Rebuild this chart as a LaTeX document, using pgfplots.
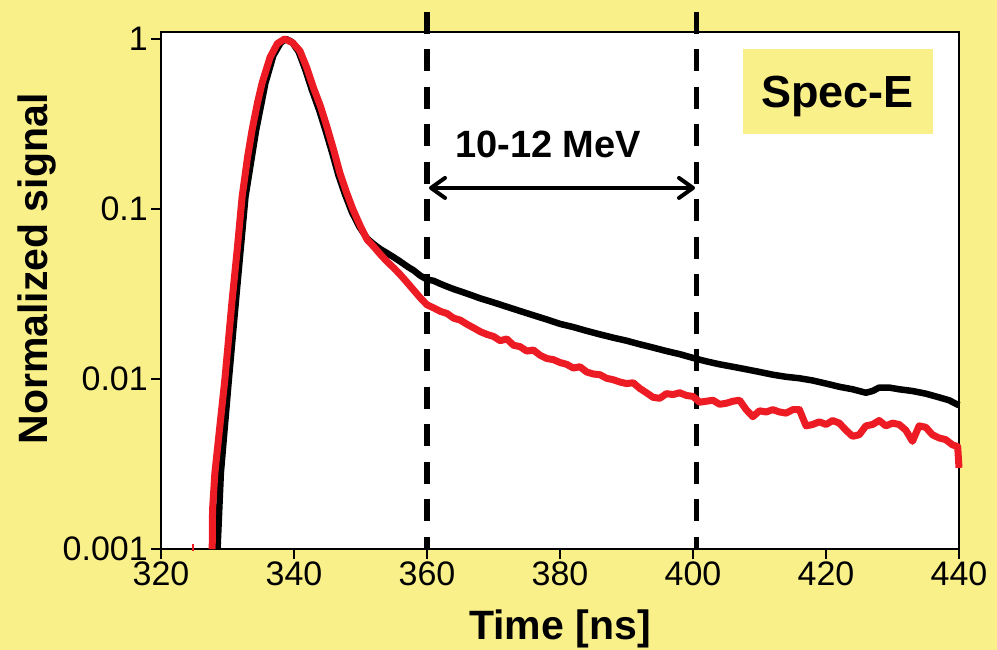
\documentclass[border=0pt]{standalone}
\usepackage{fontspec}
\setmainfont{Liberation Sans}
\usepackage{pgfplots}
\pgfplotsset{compat=1.18}
\usetikzlibrary{arrows.meta}
\definecolor{bgyellow}{RGB}{250,240,138}
\definecolor{sigred}{RGB}{237,28,36}

\begin{document}
\begin{tikzpicture}
% page background
\fill[bgyellow] (0pt,0pt) rectangle (997pt,650pt);
\begin{axis}[
  at={(161pt,101pt)}, anchor=south west,
  scale only axis, width=798pt, height=517pt,
  xmin=320, xmax=440,
  ymode=log, ymin=0.001, ymax=1.099,
  xtick={320,340,...,440},
  ytick={0.001,0.01,0.1,1}, yticklabels={0.001,0.01,0.1,1},
  yminorticks=false,
  xtick pos=bottom, ytick pos=left,
  tick align=outside, major tick length=10pt,
  tick style={line width=1.5pt, black},
  axis line style={line width=1.5pt, black},
  axis background/.style={fill=white},
  tick label style={font=\fontsize{34}{40}\selectfont},
  yticklabel style={inner sep=3pt},
  xticklabel style={inner sep=3pt},
  /pgf/number format/assume math mode=true,
  /pgf/number format/1000 sep={},
  xlabel={Time [ns]}, ylabel={Normalized signal},
  label style={font=\fontsize{41}{48}\selectfont\bfseries},
  xlabel style={at={(axis description cs:0.5,-0.176)}, anchor=base},
  ylabel style={at={(axis description cs:-0.156,0.5416)}, anchor=center},
  clip=false,
]
% energy window boundaries
\draw[line width=5.5pt, dash pattern=on 22pt off 15.5pt] (axis cs:360,1.442) -- (axis cs:360,0.001);
\draw[line width=5.5pt, dash pattern=on 22pt off 15.5pt] (axis cs:400.5,1.442) -- (axis cs:400.5,0.001);

% reference signal (black)
\addplot[black, line width=6.5pt, line join=round] table {
328.5 0.001
329.0 0.0028
330.2 0.0099
331.2 0.027
332.7 0.118
334.3 0.29
335.7 0.55
336.9 0.80
338.0 0.95
338.8 1.0
339.7 0.96
340.7 0.84
341.7 0.66
342.7 0.50
343.8 0.38
344.8 0.285
345.8 0.21
346.7 0.157
347.7 0.121
348.7 0.096
349.8 0.079
351 0.067
352 0.062
353 0.058
354 0.055
355 0.052
356 0.049
357 0.046
358 0.0435
359 0.0405
360 0.0385
361 0.0378
362 0.0363
363 0.0350
364 0.0338
365 0.0328
366 0.0318
367 0.0308
368 0.0298
369 0.0290
370 0.0282
372 0.0266
374 0.0251
376 0.0237
378 0.0224
380 0.0211
382 0.0202
384 0.0192
386 0.0183
388 0.0175
390 0.0168
392 0.0160
394 0.0153
396 0.0146
398 0.0140
400 0.0133
402 0.0127
404 0.0122
406 0.0118
408 0.0114
410 0.0110
412 0.0106
414 0.0103
416 0.0101
418 0.0098
420 0.0094
422 0.0090
424 0.0087
426 0.0083
427 0.0085
428 0.0089
429.5 0.0089
431 0.0087
433 0.0085
435 0.0082
437 0.0078
438.5 0.0075
440 0.0070
};

% measured signal (red)
\addplot[sigred, line width=7pt, line join=round] table {
324.6 0.00102
325.0 0.00102
};
\addplot[sigred, line width=7pt, line join=round] table {
327.7 0.001
327.75 0.0017
328.1 0.0028
328.9 0.0055
329.6 0.0099
330.7 0.0292
331.5 0.060
332.2 0.118
333.0 0.20
333.7 0.292
334.5 0.42
335.2 0.55
336.4 0.78
337.5 0.94
338.6 1.0
339.8 0.95
340.9 0.85
341.9 0.68
342.9 0.52
344.0 0.40
345.0 0.30
346.0 0.22
346.9 0.163
347.9 0.125
348.9 0.0986
350.0 0.079
351.0 0.066
352 0.060
353 0.054
354 0.049
355 0.045
356 0.041
357 0.037
358 0.0333
359 0.030
360 0.0273
361 0.0262
362 0.0250
363 0.0243
364 0.0228
365 0.0222
366 0.0210
367 0.0200
368 0.0190
369 0.0183
370 0.0178
371 0.0168
372 0.0172
373 0.0158
374 0.0155
375 0.0146
376 0.0148
377 0.0138
378 0.0132
379 0.0130
380 0.0125
381 0.0122
382 0.0116
383 0.0118
384 0.0110
385 0.0107
386 0.0106
387 0.0101
388 0.0099
389 0.0096
390 0.0094
391 0.0095
392 0.0088
393 0.0083
394 0.0078
395 0.0077
396 0.0082
397 0.0081
398 0.0083
399 0.0080
400 0.0079
401 0.0073
402 0.0074
403 0.0075
404 0.0071
405 0.0072
406 0.0074
407 0.0075
408 0.0066
409 0.0060
410 0.0065
411 0.0064
412 0.0066
413 0.0064
414 0.0063
415 0.0066
416 0.0066
417 0.0053
418 0.0054
419 0.0056
420 0.0054
421 0.0057
422 0.0055
423 0.0050
424 0.0046
425 0.0047
426 0.0053
427 0.0054
428 0.0057
429 0.0053
430 0.0055
431 0.0054
432 0.0050
433 0.0043
434 0.0053
435 0.0052
436 0.0047
437 0.0045
438 0.0044
439 0.0041
439.8 0.0040
440 0.0030
};

% energy window annotation
\draw[line width=4pt, line cap=round,
  {Straight Barb[length=14pt,width=20pt,round]}-{Straight Barb[length=14pt,width=20pt,round]}]
  (axis cs:360.3,0.133) -- (axis cs:400.3,0.133);
\node[font=\fontsize{38}{44}\selectfont\bfseries, anchor=base]
  at (axis cs:378.2,0.202) {10-12 MeV};
\node[fill=bgyellow, minimum width=190pt, minimum height=85pt, inner sep=0pt,
  text depth=0pt, font=\fontsize{45}{52}\selectfont\bfseries]
  at (axis description cs:0.848,0.885) {Spec-E};
\end{axis}
\pgfresetboundingbox
\path (0pt,0pt) rectangle (997pt,650pt);
\end{tikzpicture}
\end{document}
